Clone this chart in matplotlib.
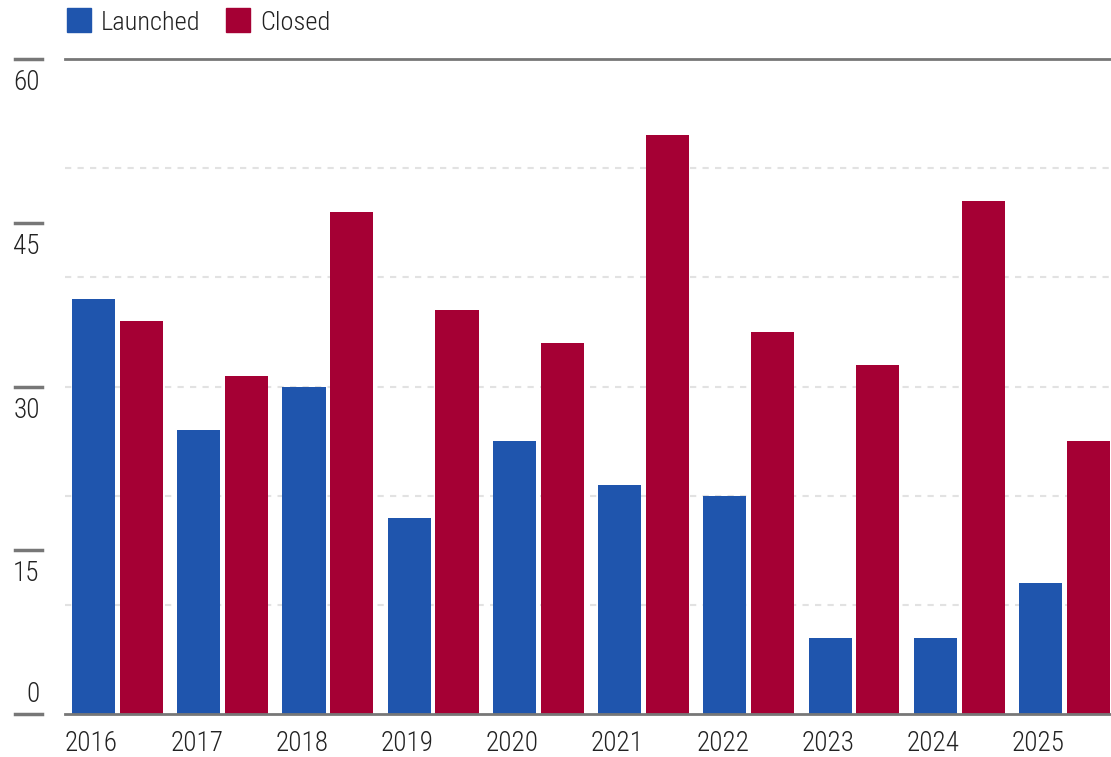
import matplotlib.pyplot as plt
import matplotlib.transforms as mtransforms
import numpy as np

plt.rcParams['font.family'] = ['Roboto Condensed', 'Archivo Narrow', 'PT Sans Narrow',
                               'Liberation Sans Narrow', 'DejaVu Sans']
plt.rcParams['font.weight'] = 'light'

years = ['2016', '2017', '2018', '2019', '2020', '2021', '2022', '2023', '2024', '2025']
launched = [38, 26, 30, 18, 25, 21, 20, 7, 7, 12]
closed = [36, 31, 46, 37, 34, 53, 35, 32, 47, 25]
yticks = [0, 15, 30, 45, 60]
grid_vals = [10, 20, 30, 40, 50]

blue = '#1f55ad'
red = '#a50034'
axis_grey = '#777777'
text_col = '#222222'

fig = plt.figure(figsize=(11.11, 7.57), dpi=100)
ax = fig.add_axes([0.0585, 0.0568, 0.947, 0.8652])

x = np.arange(len(years))
ax.bar(x + 0.272, launched, width=0.41, color=blue, zorder=3)
ax.bar(x + 0.726, closed, width=0.41, color=red, zorder=3)

ax.set_xlim(0, len(years))
ax.set_ylim(0, 60)

# dotted grid, solid top and base lines
for g in grid_vals:
    ax.axhline(g, color='#e2e2e2', lw=1.5, dashes=(3, 3), zorder=1)
ax.axhline(60, color=axis_grey, lw=2, zorder=4, clip_on=False)
ax.axhline(0, color=axis_grey, lw=2, zorder=4, clip_on=False)

for s in ax.spines.values():
    s.set_visible(False)
ax.set_xticks([])
ax.set_yticks([])

# y labels with short dashes out at the left
trans = mtransforms.blended_transform_factory(ax.transAxes, ax.transData)
for t in yticks:
    ax.plot([-0.0475, -0.022], [t, t], color=axis_grey, lw=2.5,
            transform=trans, clip_on=False)
    dy = 14 if t == 0 else -17
    off = mtransforms.offset_copy(trans, fig=fig, x=0, y=dy, units='points')
    ax.text(-0.024, t, str(t), transform=off, ha='right', va='center',
            fontsize=19.5, color=text_col)

# year labels under each group
for i, yr in enumerate(years):
    ax.annotate(yr, (i, 0), xytext=(0, -21), textcoords='offset points',
                ha='left', va='center', fontsize=19.5, color=text_col,
                annotation_clip=False)

# legend
leg_items = [('Launched', blue), ('Closed', red)]
lx = [67, 226]
for (lab, c), px in zip(leg_items, lx):
    fig.patches.append(plt.Rectangle((px / 1111, 1 - 32 / 757), 24 / 1111, 24 / 757,
                                     transform=fig.transFigure, color=c))
    fig.text((px + 34) / 1111, 1 - 23 / 757, lab, ha='left', va='center',
             fontsize=19, color=text_col)

fig.savefig('out.png', dpi=100)
